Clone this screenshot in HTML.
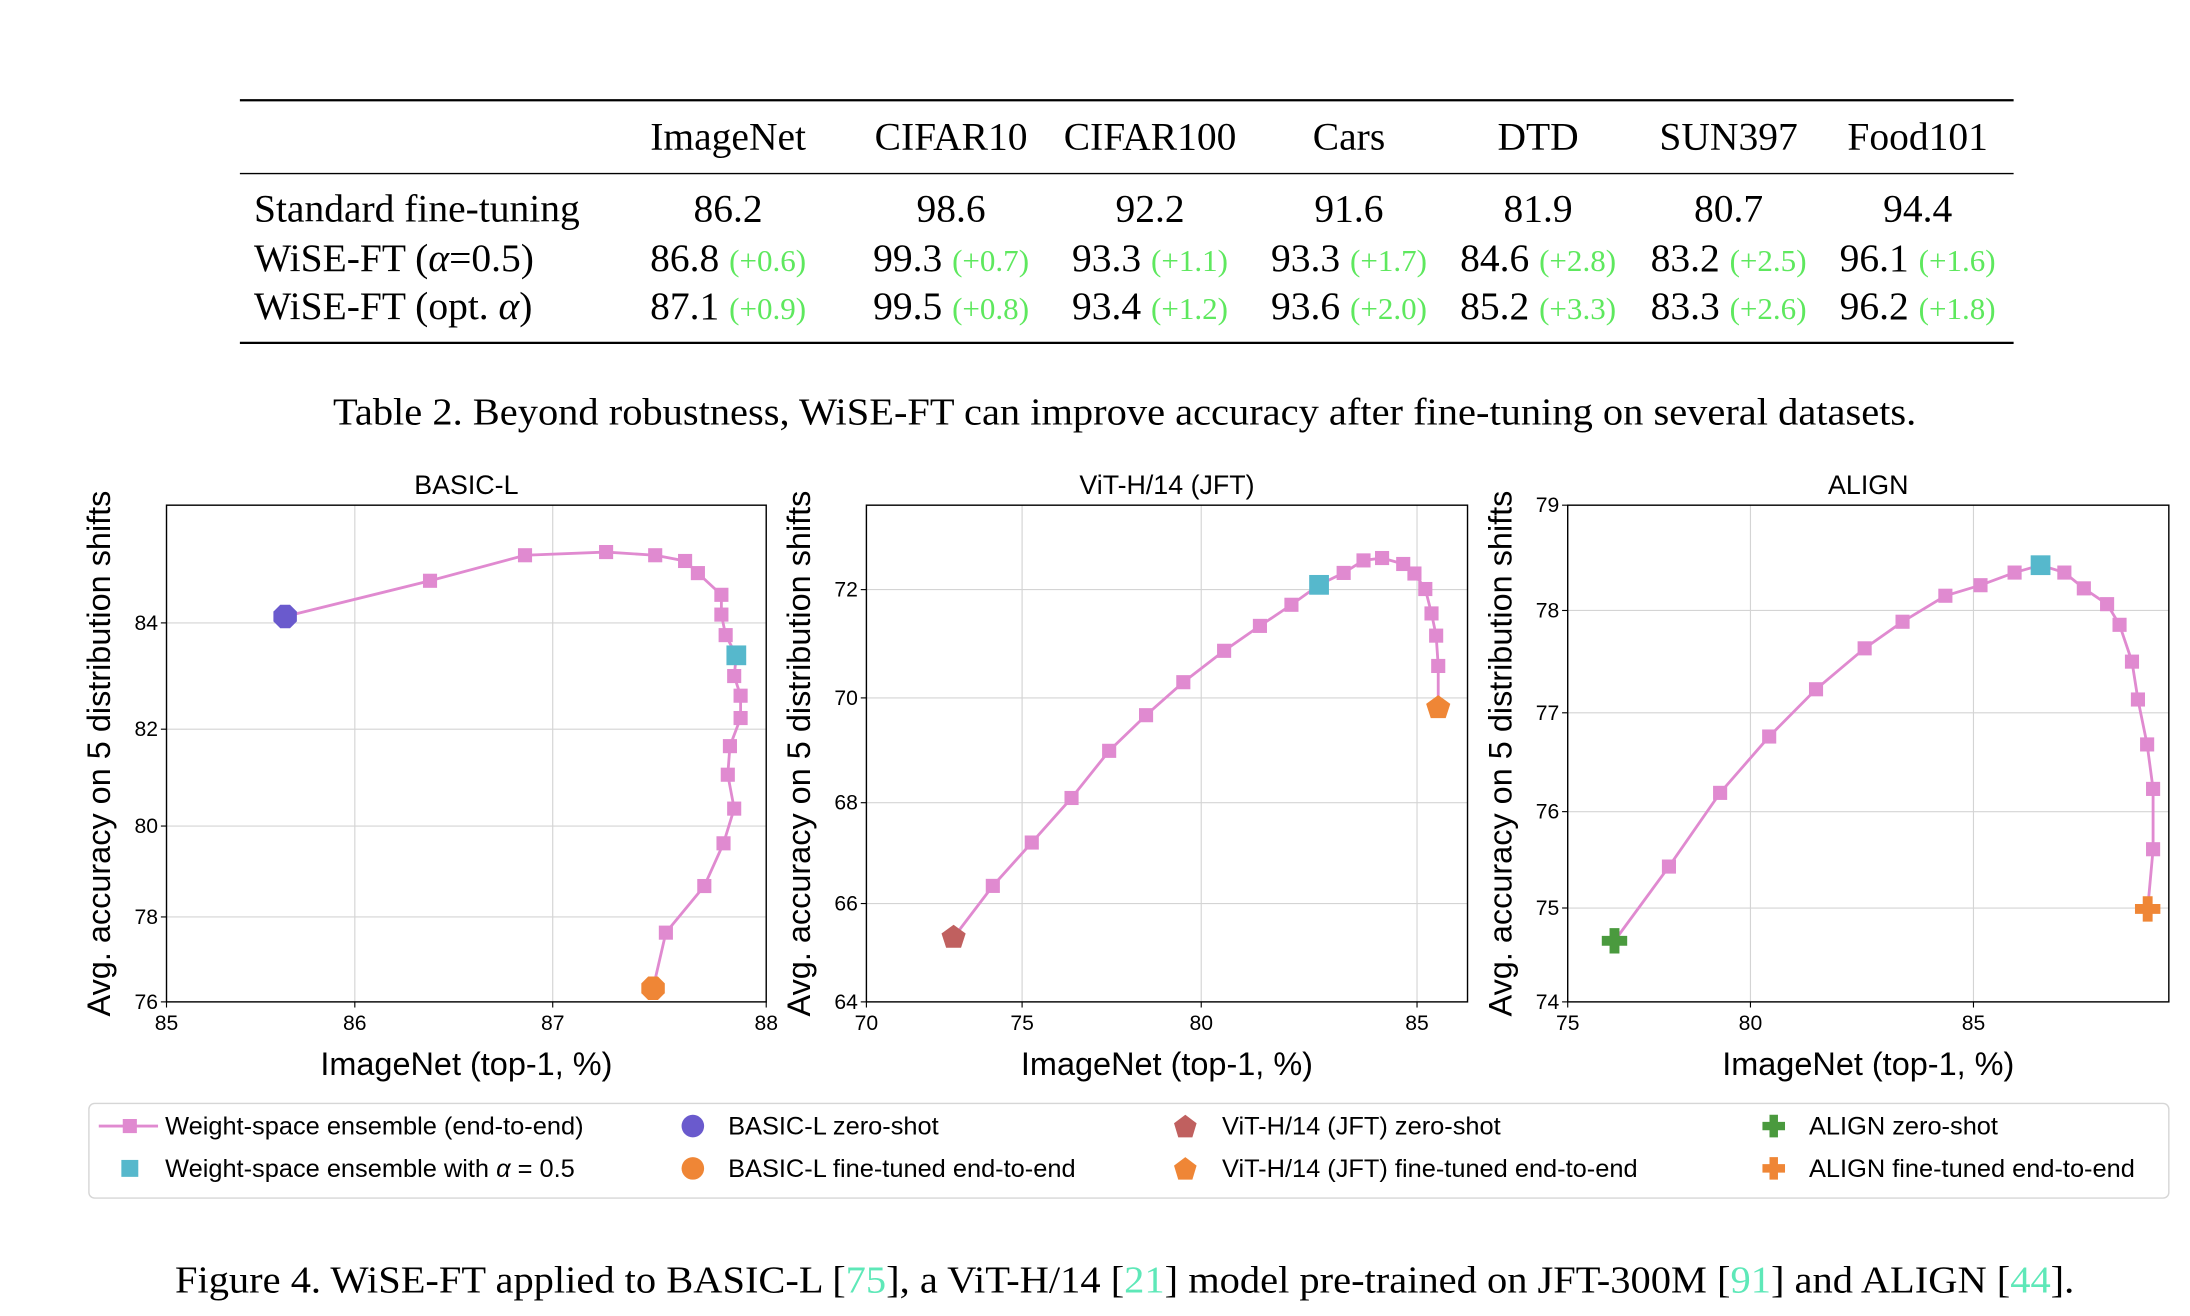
<!DOCTYPE html>
<html><head><meta charset="utf-8">
<style>
html,body{margin:0;padding:0;background:#fff;}
svg{display:block;}
.serif{font-family:"Liberation Serif",serif;}
.sans{font-family:"Liberation Sans",sans-serif;}
</style></head>
<body>
<svg id="fig" width="2190" height="1316" viewBox="0 0 1552 932.6" xmlns="http://www.w3.org/2000/svg">
<g class="serif" fill="#000">
  <line x1="170" y1="71" x2="1427" y2="71" stroke="#000" stroke-width="1.6"/>
  <line x1="170" y1="123" x2="1427" y2="123" stroke="#000" stroke-width="1"/>
  <line x1="170" y1="243" x2="1427" y2="243" stroke="#000" stroke-width="1.6"/>
  <g font-size="28" text-anchor="middle">
    <text x="516" y="106">ImageNet</text><text x="674" y="106">CIFAR10</text><text x="815" y="106">CIFAR100</text>
    <text x="956" y="106">Cars</text><text x="1090" y="106">DTD</text><text x="1225" y="106">SUN397</text><text x="1359" y="106">Food101</text>
  </g>
  <g font-size="28">
    <text x="180" y="157">Standard fine-tuning</text>
    <text x="180" y="192">WiSE-FT (<tspan font-style="italic">α</tspan>=0.5)</text>
    <text x="180" y="226">WiSE-FT (opt. <tspan font-style="italic">α</tspan>)</text>
  </g>
  <g font-size="28" text-anchor="middle">
    <text x="516" y="157">86.2</text><text x="674" y="157">98.6</text><text x="815" y="157">92.2</text><text x="956" y="157">91.6</text><text x="1090" y="157">81.9</text><text x="1225" y="157">80.7</text><text x="1359" y="157">94.4</text>
  </g>
  <g font-size="28" text-anchor="middle">
    <text x="516" y="192">86.8 <tspan fill="#5ee85e" font-size="22">(+0.6)</tspan></text>
    <text x="674" y="192">99.3 <tspan fill="#5ee85e" font-size="22">(+0.7)</tspan></text>
    <text x="815" y="192">93.3 <tspan fill="#5ee85e" font-size="22">(+1.1)</tspan></text>
    <text x="956" y="192">93.3 <tspan fill="#5ee85e" font-size="22">(+1.7)</tspan></text>
    <text x="1090" y="192">84.6 <tspan fill="#5ee85e" font-size="22">(+2.8)</tspan></text>
    <text x="1225" y="192">83.2 <tspan fill="#5ee85e" font-size="22">(+2.5)</tspan></text>
    <text x="1359" y="192">96.1 <tspan fill="#5ee85e" font-size="22">(+1.6)</tspan></text>
  </g>
  <g font-size="28" text-anchor="middle">
    <text x="516" y="226">87.1 <tspan fill="#5ee85e" font-size="22">(+0.9)</tspan></text>
    <text x="674" y="226">99.5 <tspan fill="#5ee85e" font-size="22">(+0.8)</tspan></text>
    <text x="815" y="226">93.4 <tspan fill="#5ee85e" font-size="22">(+1.2)</tspan></text>
    <text x="956" y="226">93.6 <tspan fill="#5ee85e" font-size="22">(+2.0)</tspan></text>
    <text x="1090" y="226">85.2 <tspan fill="#5ee85e" font-size="22">(+3.3)</tspan></text>
    <text x="1225" y="226">83.3 <tspan fill="#5ee85e" font-size="22">(+2.6)</tspan></text>
    <text x="1359" y="226">96.2 <tspan fill="#5ee85e" font-size="22">(+1.8)</tspan></text>
  </g>
</g>
<text class="serif" x="236" y="301" font-size="27" textLength="1122" lengthAdjust="spacingAndGlyphs">Table 2.  Beyond robustness, WiSE-FT can improve accuracy after fine-tuning on several datasets.</text>
<g id="plots"></g>
<g class="sans" font-size="18">
  <rect x="63" y="782" width="1474" height="67" rx="4" fill="#fff" stroke="#d6d6d6" stroke-width="1"/>
  <g><line x1="70" y1="798" x2="112" y2="798" stroke="#e08ad0" stroke-width="2"/><rect x="87" y="793" width="10" height="10" fill="#e08ad0"/><text x="117" y="804">Weight-space ensemble (end-to-end)</text></g>
  <g><rect x="86" y="822" width="12" height="12" fill="#56b8cc"/><text x="117" y="834">Weight-space ensemble with <tspan font-style="italic">α</tspan> = 0.5</text></g>
  <g><circle cx="491" cy="798" r="8" fill="#6a5acd"/><text x="516" y="804">BASIC-L zero-shot</text></g>
  <g><circle cx="491" cy="828" r="8" fill="#ef8636"/><text x="516" y="834">BASIC-L fine-tuned end-to-end</text></g>
  <g><polygon points="840,790 848,796 845,806 835,806 832,796" fill="#c0605f"/><text x="866" y="804">ViT-H/14 (JFT) zero-shot</text></g>
  <g><polygon points="840,820 848,826 845,836 835,836 832,826" fill="#ef8636"/><text x="866" y="834">ViT-H/14 (JFT) fine-tuned end-to-end</text></g>
  <g><path d="M1254,790h6v5h5v6h-5v5h-6v-5h-5v-6h5z" fill="#4a9a3e"/><text x="1282" y="804">ALIGN zero-shot</text></g>
  <g><path d="M1254,820h6v5h5v6h-5v5h-6v-5h-5v-6h5z" fill="#ef8636"/><text x="1282" y="834">ALIGN fine-tuned end-to-end</text></g>
</g>
<text class="serif" x="124" y="916" font-size="27" textLength="1346" lengthAdjust="spacingAndGlyphs">Figure 4. WiSE-FT applied to BASIC-L [<tspan fill="#5ee8b8">75</tspan>], a ViT-H/14 [<tspan fill="#5ee8b8">21</tspan>] model pre-trained on JFT-300M [<tspan fill="#5ee8b8">91</tspan>] and ALIGN [<tspan fill="#5ee8b8">44</tspan>].</text>
</svg>
<script>
// BASIC-L data
const basicX = [86.38,86.86,87.25,87.48,87.62,87.68,87.79,87.79,87.81,87.85,87.88,87.88,87.83,87.82,87.85,87.80,87.71,87.53];
const basicY = [84.66,85.06,85.11,85.06,84.97,84.78,84.44,84.13,83.77,83.00,82.63,82.21,81.65,81.06,80.36,79.62,78.68,77.63];
const basicZero = [85.63,84.10];
const basicFine = [87.47,76.32];
const basicAlpha = [87.86,83.39];
const basicXTicks = [85,86,87,88];
const basicYTicks = [76,78,80,82,84,86];
// ViT-H/14 data
const vitX = [74.06,75.27,76.38,77.43,78.46,79.50,80.53,81.36,82.09,83.30,83.76,84.19,84.68,84.94,85.16,85.28,85.37,85.41];
const vitY = [66.35,67.21,68.09,68.99,69.67,70.29,70.87,71.33,71.72,72.28,72.49,72.53,72.43,72.27,72.01,71.56,71.15,70.59];
const vitZero = [72.80,65.31];
const vitFine = [85.41,69.81];
const vitAlpha = [82.73,72.08];
const vitXTicks = [70,75,80,85,90];
const vitYTicks = [64,66,68,70,72,74];
// ALIGN data
const alignX = [77.77,79.17,80.42,81.47,82.56,83.41,84.37,85.13,85.76,86.68,87.04,87.47,87.70,87.93,88.04,88.21,88.32,88.32];
const alignY = [75.43,76.19,76.76,77.23,77.63,77.89,78.14,78.24,78.36,78.36,78.21,78.06,77.86,77.50,77.13,76.68,76.23,75.61];
const alignZero = [76.28,74.65];
const alignFine = [88.22,74.99];
const alignAlpha = [86.24,78.43];
const alignXTicks = [75,80,85,90];
const alignYTicks = [74,75,76,77,78,79];

// axis calibration (fraction of axis extent at each tick value; the source figure's axes are non-uniformly spaced)
const basicXCal = [0,0.314,0.644,1.0];
const basicYCal = [0,0.171,0.354,0.549,0.763,1.02];
const vitXCal = [0,0.259,0.557,0.916,1.346];
const vitYCal = [0,0.198,0.401,0.612,0.83,1.07];
const alignXCal = [0,0.304,0.675,1.125];
const alignYCal = [0,0.189,0.383,0.582,0.788,1.0];

const NS = 'http://www.w3.org/2000/svg';
const plots = document.getElementById('plots');
function mk(tag, attrs, parent){const e=document.createElementNS(NS,tag);for(const k in attrs)e.setAttribute(k,attrs[k]);parent.appendChild(e);return e;}
function pw(ticks, cal){
  return v=>{
    let i=0;
    while(i<ticks.length-2 && v>ticks[i+1]) i++;
    return cal[i]+(v-ticks[i])/(ticks[i+1]-ticks[i])*(cal[i+1]-cal[i]);
  };
}

function drawPlot(cfg){
  const g = mk('g',{},plots);
  
  
  const L=cfg.left,R=cfg.right,T=358,B=710;
  const fx=pw(cfg.xt,cfg.xc), fy=pw(cfg.yt,cfg.yc);
  const sx=v=>L+fx(v)*(R-L);
  const sy=v=>B-fy(v)*(B-T);
  cfg.xt.forEach(t=>{const x=sx(t);
    if(x>R+1) return;
    if(x>L+1&&x<R-1){const gl=mk('line',{x1:x,y1:T,x2:x,y2:B,stroke:'#d4d4d4','stroke-width':0.8},g);
      
      }
    mk('line',{x1:x,y1:B,x2:x,y2:B+4,stroke:'#000','stroke-width':0.8},g);
    const tl=mk('text',{x:x,y:B+20,'font-size':15,'text-anchor':'middle',class:'sans'},g);tl.textContent=t;
    
    
  });
  cfg.yt.forEach(t=>{const y=sy(t);
    if(y<T-1) return;
    if(y>T+1&&y<B-1){const gl=mk('line',{x1:L,y1:y,x2:R,y2:y,stroke:'#d4d4d4','stroke-width':0.8},g);
      
      }
    mk('line',{x1:L-4,y1:y,x2:L,y2:y,stroke:'#000','stroke-width':0.8},g);
    const tl=mk('text',{x:L-6,y:y+5,'font-size':15,'text-anchor':'end',class:'sans'},g);tl.textContent=t;
    
    
  });
  const fr=mk('rect',{x:L,y:T,width:R-L,height:B-T,fill:'none',stroke:'#000','stroke-width':1},g);
  
  
  let pts=[[sx(cfg.zero[0]),sy(cfg.zero[1])]];
  const seq=cfg.xs.map((x,i)=>[x,cfg.ys[i]]);
  seq.splice(cfg.alphaIdx,0,cfg.alpha);
  seq.forEach(p=>pts.push([sx(p[0]),sy(p[1])]));
  pts.push([sx(cfg.fine[0]),sy(cfg.fine[1])]);
  const ln=mk('polyline',{points:pts.map(p=>p.join(',')).join(' '),fill:'none',stroke:'#e08ad0','stroke-width':2},g);
  
  
  cfg.xs.forEach((x,i)=>{
    const r=mk('rect',{x:sx(x)-5,y:sy(cfg.ys[i])-5,width:10,height:10,fill:'#e08ad0'},g);
    
    
  });
  const a=mk('rect',{x:sx(cfg.alpha[0])-7,y:sy(cfg.alpha[1])-7,width:14,height:14,fill:'#56b8cc'},g);
  
  
  const shape=(kind,cx,cy,color)=>{
    let el;
    if(kind==='oct'){const p=[];for(let k=0;k<8;k++){const an=Math.PI/8+k*Math.PI/4;p.push((cx+9*Math.cos(an))+','+(cy+9*Math.sin(an)));}el=mk('polygon',{points:p.join(' '),fill:color},g);}
    else if(kind==='pent'){const p=[];for(let k=0;k<5;k++){const an=-Math.PI/2+k*2*Math.PI/5;p.push((cx+9*Math.cos(an))+','+(cy+9*Math.sin(an)));}el=mk('polygon',{points:p.join(' '),fill:color},g);}
    else {el=mk('path',{d:`M${cx-3.5},${cy-9}h7v5.5h5.5v7h-5.5v5.5h-7v-5.5h-5.5v-7h5.5z`,fill:color},g);}
    return el;
  };
  const z=shape(cfg.kind,sx(cfg.zero[0]),sy(cfg.zero[1]),cfg.zeroColor);
  
  
  const f=shape(cfg.kind,sx(cfg.fine[0]),sy(cfg.fine[1]),'#ef8636');
  
  
  const tt=mk('text',{x:(L+R)/2,y:350,'font-size':19,'text-anchor':'middle',class:'sans'},g);tt.textContent=cfg.title;
  
  
  const xl=mk('text',{x:(L+R)/2,y:762,'font-size':23,'text-anchor':'middle',class:'sans'},g);xl.textContent='ImageNet (top-1, %)';
  
  
  const yl=mk('text',{x:0,y:0,'font-size':23,'text-anchor':'middle',class:'sans',transform:`translate(${L-40},534) rotate(-90)`},g);yl.textContent='Avg. accuracy on 5 distribution shifts';
  
  
}
drawPlot({name:'basic-l-chart',title:'BASIC-L',left:118,right:543,xt:basicXTicks,xc:basicXCal,yt:basicYTicks,yc:basicYCal,xs:basicX,ys:basicY,zero:basicZero,fine:basicFine,alpha:basicAlpha,alphaIdx:9,kind:'oct',zeroColor:'#6a5acd'});
drawPlot({name:'vit-h14-chart',title:'ViT-H/14 (JFT)',left:614,right:1040,xt:vitXTicks,xc:vitXCal,yt:vitYTicks,yc:vitYCal,xs:vitX,ys:vitY,zero:vitZero,fine:vitFine,alpha:vitAlpha,alphaIdx:9,kind:'pent',zeroColor:'#c0605f'});
drawPlot({name:'align-chart',title:'ALIGN',left:1111,right:1537,xt:alignXTicks,xc:alignXCal,yt:alignYTicks,yc:alignYCal,xs:alignX,ys:alignY,zero:alignZero,fine:alignFine,alpha:alignAlpha,alphaIdx:9,kind:'plus',zeroColor:'#4a9a3e'});
</script>
</body></html>
